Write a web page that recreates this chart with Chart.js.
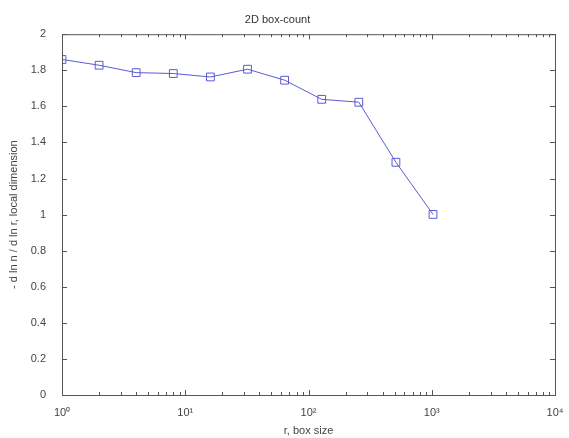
<!DOCTYPE html>
<html>
<head>
<meta charset="utf-8">
<script src="https://cdn.jsdelivr.net/npm/chart.js@4"></script>
<style>
  html, body { margin: 0; padding: 0; background: #fff; }
</style>
</head>
<body>
<canvas id="boxChart" width="569" height="438"></canvas>
<script>
// box sizes r (powers of two) and local dimension
const boxSizes = [1, 2, 4, 8, 16, 32, 64, 128, 256, 512, 1024];
const localDim = [1.86, 1.828, 1.787, 1.782, 1.763, 1.806, 1.745, 1.639, 1.623, 1.29, 1.001];
const xDecades = [1, 10, 100, 1000, 10000];
const supers = ['⁰', '¹', '²', '³', '⁴'];

const lineColor = 'rgb(90,90,215)';
const axisColor = '#555';

// MATLAB style box with inward ticks on all four sides
const boxPlugin = {
    id: 'matlabBox',
    afterDraw(chart) {
        const { ctx, chartArea: a, scales: { x, y } } = chart;
        ctx.save();
        ctx.strokeStyle = axisColor;
        ctx.lineWidth = 1;
        ctx.strokeRect(a.left + 0.5, a.top + 0.5, a.right - a.left, a.bottom - a.top);
        ctx.beginPath();
        // x ticks: majors and log minors
        for (let d = 1; d < 10000; d *= 10) {
            for (let k = 1; k <= 10; k++) {
                const px = Math.round(x.getPixelForValue(d * k)) + 0.5;
                const len = (k === 1 || k === 10) ? 5 : 3;
                ctx.moveTo(px, a.bottom); ctx.lineTo(px, a.bottom - len);
                ctx.moveTo(px, a.top); ctx.lineTo(px, a.top + len);
            }
        }
        // y ticks
        for (let v = 0; v <= 2.0001; v += 0.2) {
            const py = Math.round(y.getPixelForValue(v)) + 0.5;
            ctx.moveTo(a.left, py); ctx.lineTo(a.left + 5, py);
            ctx.moveTo(a.right, py); ctx.lineTo(a.right - 5, py);
        }
        ctx.stroke();
        ctx.restore();
    }
};

const ctx = document.getElementById('boxChart').getContext('2d');
new Chart(ctx, {
    type: 'line',
    data: {
        datasets: [{
            data: boxSizes.map((r, i) => ({ x: r, y: localDim[i] })),
            borderColor: lineColor,
            borderWidth: 1,
            pointStyle: 'rect',
            pointRadius: 5.5,
            pointBorderColor: lineColor,
            pointBackgroundColor: 'rgba(0,0,0,0)',
            pointBorderWidth: 1,
            tension: 0
        }]
    },
    options: {
        responsive: false,
        animation: false,
        layout: { padding: { top: 0, right: 14, bottom: 0, left: 0 } },
        plugins: {
            legend: { display: false },
            tooltip: { enabled: false },
            title: {
                display: true,
                text: '2D box-count',
                color: '#333',
                font: { family: 'Liberation Sans', size: 11, weight: 'normal' },
                padding: { top: 13, bottom: 8 }
            }
        },
        scales: {
            x: {
                type: 'logarithmic',
                min: 1,
                max: 10000,
                afterFit: s => { s.height = 43; },
                afterBuildTicks: s => { s.ticks = xDecades.map(v => ({ value: v })); },
                grid: { display: false },
                border: { display: false },
                ticks: {
                    autoSkip: false,
                    maxRotation: 0,
                    padding: 3,
                    color: '#444',
                    font: { family: 'Liberation Sans', size: 11 },
                    callback: v => '10' + supers[Math.round(Math.log10(v))]
                },
                title: {
                    display: true,
                    text: 'r, box size',
                    color: '#444',
                    font: { family: 'Liberation Sans', size: 11 },
                    padding: { top: 0, bottom: 0 }
                }
            },
            y: {
                min: 0,
                max: 2,
                afterFit: s => { s.width = 62; },
                grid: { display: false },
                border: { display: false },
                ticks: {
                    stepSize: 0.2,
                    autoSkip: false,
                    padding: 8,
                    color: '#444',
                    font: { family: 'Liberation Sans', size: 11 },
                    callback: v => Math.round(v * 10) / 10
                },
                title: {
                    display: true,
                    text: '- d ln n / d ln r, local dimension',
                    color: '#444',
                    font: { family: 'Liberation Sans', size: 11 },
                    padding: { top: 7, bottom: 0 }
                }
            }
        }
    },
    plugins: [boxPlugin]
});
</script>
</body>
</html>
